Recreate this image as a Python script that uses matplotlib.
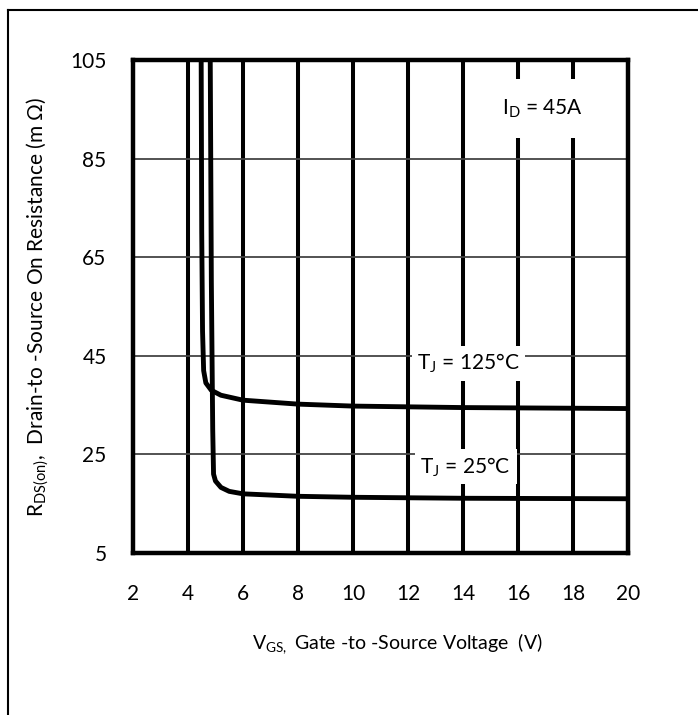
import numpy as np
import matplotlib
matplotlib.use("Agg")
import matplotlib.pyplot as plt
from matplotlib.lines import Line2D

plt.rcParams['font.family'] = ['Lato', 'DejaVu Sans']
plt.rcParams['mathtext.fontset'] = 'custom'
plt.rcParams['mathtext.rm'] = 'Lato'

# curves
vgs_125 = [4.48, 4.50, 4.53, 4.57, 4.65, 4.85, 5.2, 6.0, 8.0, 10.0, 14.0, 20.0]
rds_125 = [105, 70, 50, 42, 39.5, 38, 37, 36, 35.2, 34.8, 34.5, 34.3]
vgs_25 = [4.81, 4.85, 4.90, 4.93, 5.0, 5.2, 5.5, 6.0, 8.0, 10.0, 14.0, 20.0]
rds_25 = [105, 60, 30, 21, 19.6, 18.3, 17.5, 17.0, 16.5, 16.3, 16.1, 16.0]

xticks = [2, 4, 6, 8, 10, 12, 14, 16, 18, 20]
yticks = [5, 25, 45, 65, 85, 105]

fig = plt.figure(figsize=(6.98, 7.15), dpi=100)
ax = fig.add_axes([0.1905, 0.2266, 0.7092, 0.6894])

for x in xticks[1:-1]:
    ax.axvline(x, color='black', lw=2.9, zorder=1)
for y in yticks[1:-1]:
    ax.axhline(y, color='#444444', lw=1.3, zorder=1)

ax.plot(vgs_125, rds_125, color='black', lw=3.5, zorder=3, solid_capstyle='butt')
ax.plot(vgs_25, rds_25, color='black', lw=3.5, zorder=3, solid_capstyle='butt')

box = dict(facecolor='white', edgecolor='none', pad=4)
ax.text(14.2, 43.4, r"T$_{\mathrm{J}}$ = 125°C", ha='center', va='center', fontsize=15, bbox=box, zorder=4)
ax.text(14.1, 22.5, r"T$_{\mathrm{J}}$ = 25°C", ha='center', va='center', fontsize=15, bbox=box, zorder=4)
ax.text(16.9, 95.2, r"I$_{\mathrm{D}}$ = 45A", ha='center', va='center', fontsize=15,
        bbox=dict(facecolor='white', edgecolor='none', pad=13), zorder=4)

ax.set_xlim(2, 20)
ax.set_ylim(5, 105)
ax.set_xticks(xticks)
ax.set_yticks(yticks)
ax.tick_params(length=0, labelsize=15)
ax.tick_params(axis='x', pad=22)
ax.tick_params(axis='y', pad=19)
for s in ax.spines.values():
    s.set_linewidth(3.2)
    s.set_zorder(5)

ax.set_xlabel(r"V$_{\mathrm{GS,}}$ Gate -to -Source Voltage  (V)", fontsize=14)
ax.xaxis.set_label_coords(0.535, -0.158)
ax.set_ylabel(r"R$_{\mathrm{DS(on)}}$,  Drain-to -Source On Resistance (m $\Omega$)", fontsize=15, labelpad=14)

# picture border (left and top only)
fig.add_artist(Line2D([0.0115, 0.0115], [0.0, 0.986], color='black', lw=1.5, transform=fig.transFigure))
fig.add_artist(Line2D([0.0115, 1.0], [0.986, 0.986], color='black', lw=1.5, transform=fig.transFigure))

fig.savefig("out.png", dpi=100)
